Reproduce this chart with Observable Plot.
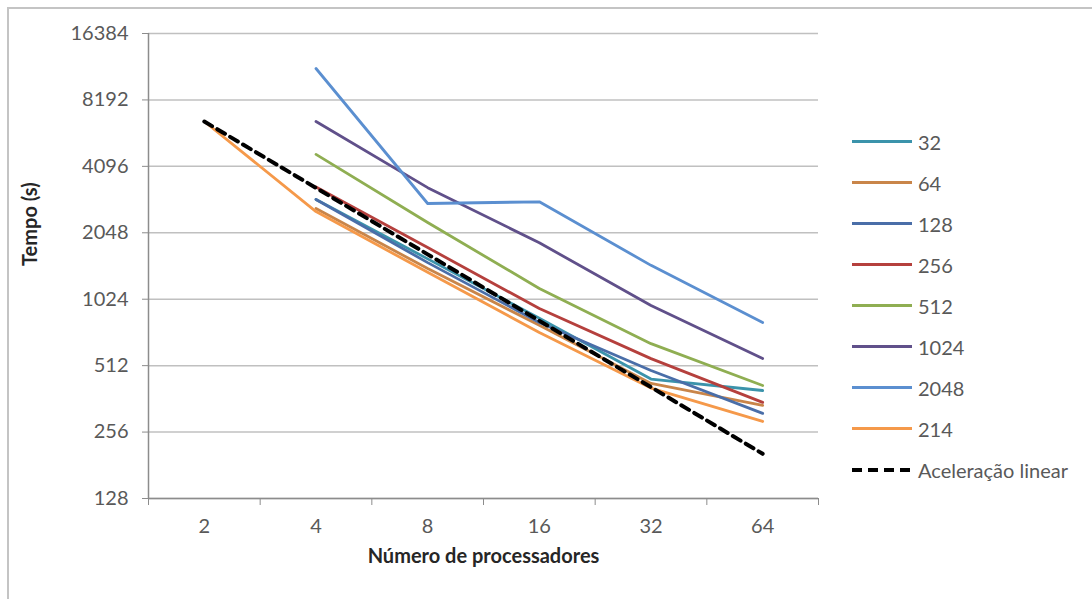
<!DOCTYPE html>
<html>
<head>
<meta charset="utf-8">
<script src="https://cdn.jsdelivr.net/npm/d3@7"></script>
<script src="https://cdn.jsdelivr.net/npm/@observablehq/plot@0.6"></script>
<style>
  html, body { margin: 0; padding: 0; background: #fff; }
  #wrap { position: relative; width: 1092px; height: 599px; overflow: hidden; font-family: Lato, "Open Sans", sans-serif; }
  #frame { position: absolute; left: 7px; top: 7px; width: 1200px; height: 700px; border-left: 2px solid #c4c4c4; border-top: 2px solid #c4c4c4; }
  #chart { position: absolute; left: 0; top: 0; }
  #legend { position: absolute; left: 852px; top: 121px; }
  .item { display: flex; align-items: center; height: 41px; }
  .sw { width: 60px; height: 3px; margin-right: 6px; }
  .lab { font-size: 20px; color: #595959; line-height: 24px; }
</style>
</head>
<body>
<div id="wrap">
  <div id="frame"></div>
  <div id="chart"></div>
  <div id="legend"></div>
</div>
<script>
// Category (x) values: number of processors
const procs = [2, 4, 8, 16, 32, 64];
// Y tick values (log base 2)
const yTicks = [128, 256, 512, 1024, 2048, 4096, 8192, 16384];
// Series names (legend order)
const seriesNames = ["32", "64", "128", "256", "512", "1024", "2048", "214", "Aceleração linear"];
const seriesColors = ["#3b93ab", "#c98549", "#4a6ea8", "#b5403d", "#8fae52", "#60508a", "#5b8fd0", "#f5994a", "#000000"];
// Series values (time in seconds), aligned with procs; null = no value
const s32   = [null, 2900, 1560, 840, 445, 395];
const s64   = [null, 2640, 1410, 780, 425, 338];
const s128  = [null, 2900, 1500, 803, 487, 311];
const s256  = [null, 3300, 1755, 929, 551, 349];
const s512  = [null, 4640, 2280, 1145, 644, 416];
const s1024 = [null, 6540, 3280, 1845, 959, 552];
const s2048 = [null, 11370, 2780, 2830, 1458, 803];
const s214  = [6540, 2556, 1356, 724, 405, 286];
const sLinear = [6540, 3270, 1635, 818, 409, 204];

const allSeries = [s32, s64, s128, s256, s512, s1024, s2048, s214, sLinear];
const rows = [];
allSeries.forEach((vals, i) => {
  vals.forEach((v, j) => {
    if (v != null) rows.push({ s: seriesNames[i], p: procs[j], t: v });
  });
});
const linName = seriesNames[8];
const solidRows = rows.filter(d => d.s !== linName);
const linRows = rows.filter(d => d.s === linName);

// category boundaries on the log2 x scale (between categories)
const boundaries = procs.map(p => p / Math.SQRT2).concat([procs[procs.length - 1] * Math.SQRT2]);

const chart = Plot.plot({
  width: 1092,
  height: 599,
  marginLeft: 148,
  marginRight: 274,
  marginTop: 33,
  marginBottom: 101,
  style: { fontFamily: "Lato, 'Open Sans', sans-serif", fontSize: "20px", color: "#595959", background: "transparent", overflow: "visible" },
  x: { type: "log", base: 2, domain: [boundaries[0], boundaries[boundaries.length - 1]] },
  y: { type: "log", base: 2, domain: [128, 16384] },
  color: { domain: seriesNames, range: seriesColors },
  marks: [
    Plot.gridY(yTicks, { stroke: "#c0c0c0", strokeOpacity: 1, strokeWidth: 1.5 }),
    Plot.axisY(yTicks, { tickSize: 6, tickPadding: 14, tickFormat: d => String(d), label: null, stroke: "#8c8c8c", fill: "#595959", fontSize: 20 }),
    Plot.axisX(procs, { tickSize: 0, tickPadding: 20, tickFormat: d => String(d), label: null, fill: "#595959", fontSize: 20 }),
    Plot.axisX(boundaries, { tickSize: 7, tickFormat: () => "", label: null, stroke: "#8c8c8c" }),
    Plot.ruleX([boundaries[0]], { stroke: "#8c8c8c", strokeWidth: 1.5 }),
    Plot.ruleY([128], { stroke: "#8c8c8c", strokeWidth: 1.5 }),
    Plot.line(solidRows, { x: "p", y: "t", z: "s", stroke: "s", strokeWidth: 2.8, strokeLinejoin: "round", strokeLinecap: "round" }),
    Plot.line(linRows, { x: "p", y: "t", stroke: "#000", strokeWidth: 4, strokeDasharray: "9,6" }),
    Plot.text(["Tempo (s)"], { text: d => d, frameAnchor: "left", dx: -118, rotate: -90, fontWeight: "bold", fontSize: 20, fill: "#262626" }),
    Plot.text(["Número de processadores"], { text: d => d, frameAnchor: "bottom", dy: 64, fontWeight: "bold", fontSize: 20, fill: "#262626" })
  ]
});
document.getElementById("chart").appendChild(chart);

// Legend
const legend = document.getElementById("legend");
seriesNames.forEach((name, i) => {
  const item = document.createElement("div");
  item.className = "item";
  const sw = document.createElement("div");
  sw.className = "sw";
  if (name === linName) {
    sw.style.height = "4px";
    sw.style.background = "repeating-linear-gradient(to right, #000 0 10px, transparent 10px 16px)";
  } else {
    sw.style.background = seriesColors[i];
  }
  const lab = document.createElement("span");
  lab.className = "lab";
  lab.textContent = name;
  item.appendChild(sw);
  item.appendChild(lab);
  legend.appendChild(item);
});
</script>
</body>
</html>
